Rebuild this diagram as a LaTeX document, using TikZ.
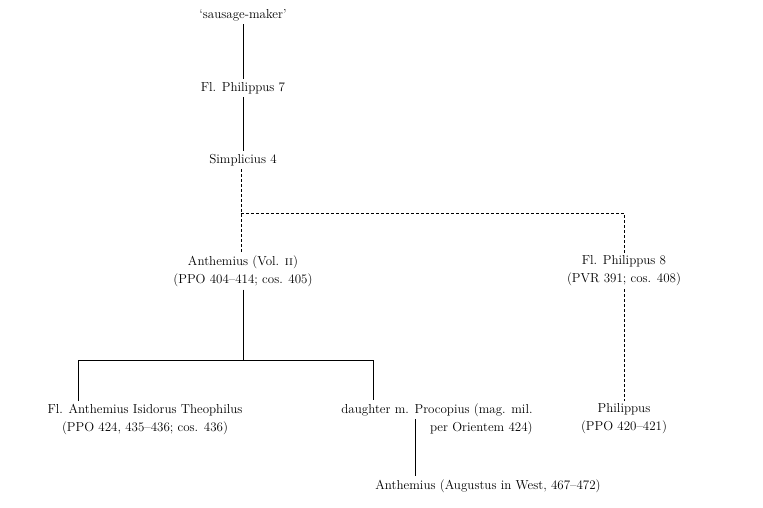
\documentclass[tikz,border=0pt]{standalone}
\usepackage{tikz}
\usetikzlibrary{calc}

\tikzset{
  person/.style={font=\fontsize{13}{18}\selectfont, align=center, inner sep=3pt},
  line/.style={line width=0.9pt},
  uncertain/.style={line width=0.9pt, dash pattern=on 3pt off 2pt}
}

\begin{document}
\begin{tikzpicture}[x=1pt,y=-1pt]
  \useasboundingbox (0,0) rectangle (763,508);

  % Top of the line
  \node[person] (sausage) at (243,15) {`sausage-maker'};
  \node[person] (philA) at (243,88) {Fl. Philippus 7};
  \node[person] (simplicius) at (243,160) {Simplicius 4};

  \draw[line] (sausage.south) -- (philA.north);
  \draw[line] (philA.south) -- (simplicius.north);

  % Sons of Simplicius (uncertain)
  \node[person] (anthemius) at (243,271) {Anthemius (Vol. \textsc{ii})\\(PPO 404--414; cos. 405)};
  \node[person] (philB) at (624,271) {Fl. Philippus 8\\(PVR 391; cos. 408)};

  \coordinate (fork) at (241,213);
  \draw[uncertain] (simplicius.south -| fork) -- (anthemius.north -| fork);
  \draw[uncertain] (fork) -| (philB.north);

  % Children of Anthemius
  \node[person] (theophilus) at (145,419) {Fl. Anthemius Isidorus Theophilus\\(PPO 424, 435--436; cos. 436)};
  \node[person, align=right] (daughter) at (437,419) {daughter m. Procopius (mag. mil.\\per Orientem 424)};
  \node[person] (philippus) at (624,419) {Philippus\\(PPO 420--421)};

  \coordinate (bar) at (243,360);
  \coordinate (barL) at (78,360);
  \coordinate (barR) at (373,360);
  \draw[line] (anthemius.south) -- (bar);
  \draw[line] (barL |- theophilus.north) -- (barL) -- (barR) -- (barR |- daughter.north);
  \draw[uncertain] (philB.south) -- (philippus.north);

  % Grandson
  \node[person] (augustus) at (488,486) {Anthemius (Augustus in West, 467--472)};
  \coordinate (dchild) at (415,419);
  \draw[line] (dchild) -- (dchild |- augustus.north);

\end{tikzpicture}
\end{document}
